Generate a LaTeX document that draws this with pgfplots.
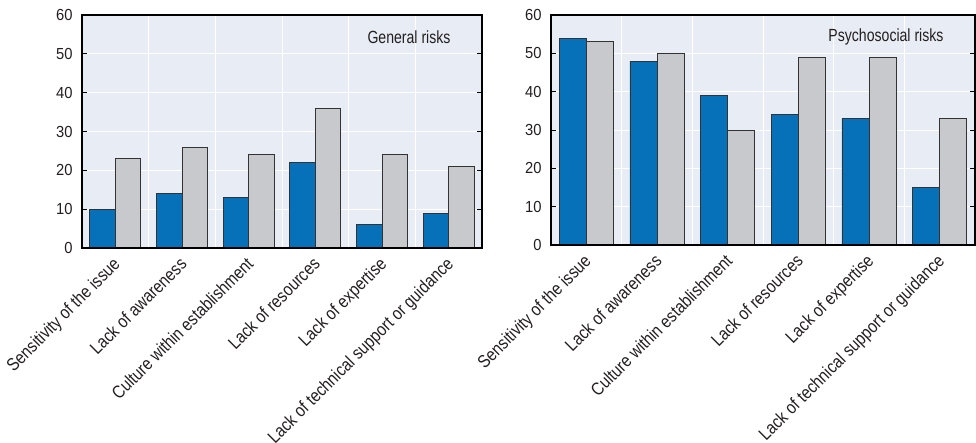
\documentclass[border=0pt]{standalone}
\usepackage{pgfplots}
\pgfplotsset{compat=1.18}
\usepackage{fontspec}
\setmainfont{Liberation Sans}
\newfontfamily\tickfont{Liberation Sans}[FakeStretch=0.92]
\newfontfamily\labfont{Liberation Sans}[FakeStretch=0.85]
\newfontfamily\titfont{Liberation Sans}[FakeStretch=0.8]
\definecolor{oblue}{HTML}{0670B8}
\definecolor{ogrey}{HTML}{C8C9CC}
\definecolor{obg}{HTML}{E8ECF5}
\definecolor{otext}{HTML}{231F20}
\pgfplotsset{
  panel/.style={
    scale only axis,
    axis background/.style={fill=obg},
    axis line style={line width=1.4bp, black},
    ymin=0, ymax=60, ytick={0,10,...,60},
    xmin=-0.5, xmax=5.5,
    xtick={0,...,5},
    minor xtick={0.5,1.5,...,4.5},
    xminorgrids=true, ymajorgrids=true,
    minor grid style={white, line width=1bp},
    major grid style={white, line width=1bp},
    x tick style={draw=none},
    minor x tick style={draw=none},
    y tick style={black, line width=0.8bp},
    tick align=inside,
    major tick length=5bp,
    minor tick length=0pt,
    /pgf/number format/assume math mode=true,
    yticklabel style={font=\tickfont\fontsize{16bp}{16bp}\selectfont, text=otext, xshift=-6bp},
    xticklabel style={font=\labfont\fontsize{18bp}{18bp}\selectfont, text=otext, rotate=45, anchor=north east, inner sep=1.5bp, xshift=-3bp, yshift=2bp},
    xticklabels={Sensitivity of the issue, Lack of awareness, Culture within establishment, Lack of resources, Lack of expertise, Lack of technical support or guidance},
    ybar, bar width=0.383,
    every axis plot/.append style={draw=black!80, line width=0.8bp},
  }
}
\begin{document}
\begin{tikzpicture}
\useasboundingbox (0,0) rectangle (976bp,443bp);
\begin{axis}[panel, width=400bp, height=233bp, at={(82bp,195bp)}, anchor=south west]
\addplot[fill=oblue, bar shift=-0.1915] coordinates {(0,10) (1,14) (2,13) (3,22) (4,6) (5,9)};
\addplot[fill=ogrey, bar shift=0.1915] coordinates {(0,23) (1,26) (2,24) (3,36) (4,24) (5,21)};
\draw[line width=1.4bp] (rel axis cs:0,0) -- (rel axis cs:1,0);
\node[anchor=east, font=\titfont\fontsize{17.6bp}{17.6bp}\selectfont, text=otext] at ([xshift=-28bp,yshift=-22bp]rel axis cs:1,1) {General risks};
\end{axis}
\begin{axis}[panel, width=424bp, height=230bp, at={(551bp,198bp)}, anchor=south west]
\addplot[fill=oblue, bar shift=-0.1915] coordinates {(0,54) (1,48) (2,39) (3,34) (4,33) (5,15)};
\addplot[fill=ogrey, bar shift=0.1915] coordinates {(0,53) (1,50) (2,30) (3,49) (4,49) (5,33)};
\draw[line width=1.4bp] (rel axis cs:0,0) -- (rel axis cs:1,0);
\node[anchor=east, font=\titfont\fontsize{17.6bp}{17.6bp}\selectfont, text=otext] at ([xshift=-28bp,yshift=-22bp]rel axis cs:1,1) {Psychosocial risks};
\end{axis}
\end{tikzpicture}
\end{document}
